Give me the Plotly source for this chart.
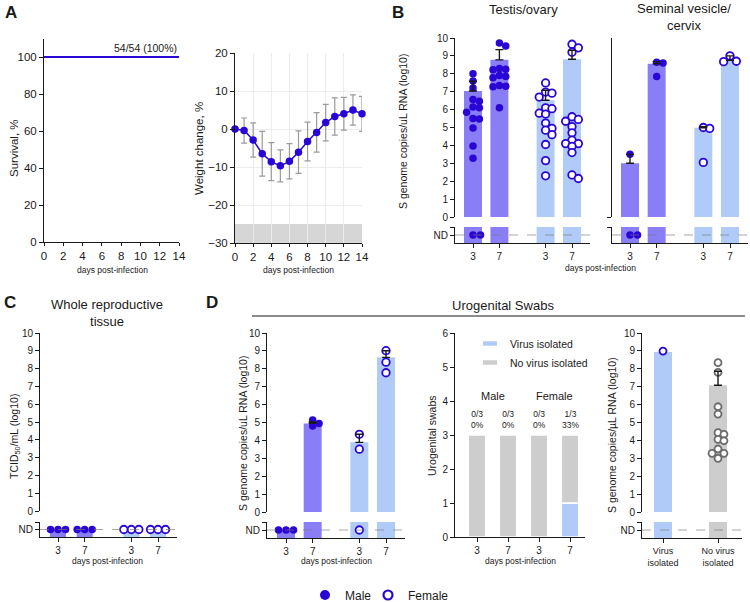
import math
import plotly.graph_objects as go

W, H = 750, 602
FONT = "Arial, Liberation Sans, Helvetica, sans-serif"
INK = "#1a1a1a"
BLUE = "#2a06d6"
MALE_BAR = "#8a7ef6"
FEMALE_BAR = "#b0cbf7"
GRAY_BAR = "#cdcdcd"
GRAY_PT = "#6b6b6b"

# ------------------------------------------------------------------ data
SURV_DAYS = [0, 14]
SURV_PCT = [100, 100]
SURV_LABEL = "54/54 (100%)"

WEIGHT_DAYS = list(range(15))
WEIGHT_MEAN = [0, -0.4, -2.9, -6.5, -8.6, -9.7, -8.5, -6.1, -3.3, -0.9, 1.7, 3.3, 4.0, 5.0, 4.0]
WEIGHT_SD = [0, 3.3, 4.5, 5.9, 5.0, 4.2, 4.65, 5.6, 5.1, 5.2, 4.8, 4.9, 4.3, 4.0, 4.6]

DAY_LABELS = ["3", "7", "3", "7"]
GROUP_SEX = ["M", "M", "F", "F"]
ND = None  # not detected

# B  Testis / ovary  (log10 S genome copies/uL RNA)
TES_M3 = [8.0, 7.6, 7.2, 6.57, 6.46, 6.14, 6.1, 5.85, 5.5, 5.47, 4.97, 3.97, 3.28, ND, ND]
TES_M7 = [9.72, 9.55, 8.3, 8.25, 8.22, 7.9, 7.85, 7.78, 7.35, 7.3, 7.28, 6.1]
TES_F3 = [7.49, 6.98, 6.92, 6.7, 6.1, 6.05, 5.8, 5.75, 5.25, 4.95, 4.85, 4.6, 4.05, 3.15, 2.3]
TES_F7 = [9.65, 9.45, 9.2, 5.6, 5.45, 5.35, 5.05, 4.7, 4.3, 4.1, 4.1, 3.95, 3.6, 2.35, 2.15]
TES_MEAN = [7.04, 8.78, 6.52, 8.81]
TES_ERR = [0.54, 0.57, 0.56, 0.5]

# B  Seminal vesicle / cervix
SEM_M3 = [3.5, ND, ND]
SEM_M7 = [8.65, 8.6, 7.85]
SEM_F3 = [5.0, 4.95, 3.05]
SEM_F7 = [9.0, 8.7, 8.68]
SEM_MEAN = [3.0, 8.56, 4.99, 8.75]
SEM_ERR = [0.5, 0.12, 0.05, 0.25]

# C  Whole reproductive tissue (TCID50/mL)
WRT_M3 = [ND, ND, ND]
WRT_M7 = [ND, ND, ND]
WRT_F3 = [ND, ND, ND]
WRT_F7 = [ND, ND, ND]
WRT_MEAN = [ND, ND, ND, ND]
WRT_ERR = [None, None, None, None]

# D  Urogenital swabs RNA
URO_M3 = [ND, ND, ND]
URO_M7 = [5.14, 4.95, 4.8]
URO_F3 = [4.34, 3.51, ND]
URO_F7 = [9.01, 8.37, 7.78]
URO_MEAN = [ND, 4.95, 3.89, 8.64]
URO_ERR = [None, 0.08, 0.45, 0.37]

# D  Swabs with / without virus isolated
SWAB_VIRUS = [0, 0, 0, 1]
SWAB_NOVIRUS = [3, 3, 3, 2]
SWAB_LABELS = ["0/3<br>0%", "0/3<br>0%", "0/3<br>0%", "1/3<br>33%"]

# D  RNA by isolation status
ISO_CATS = ["Virus<br>isolated", "No virus<br>isolated"]
ISO_VIRUS = [8.99]
ISO_NOVIRUS = [8.34, 7.8, 5.88, 5.47, 4.43, 4.34, 4.06, 3.98, 3.52, 3.28, 3.28, 3.0]
ISO_MEAN = [8.94, 7.08]
ISO_ERR = [None, 0.78]

# ------------------------------------------------------------------ helpers
ND_Y = -1.0  # plotting level for "ND" in the broken lower segment


def xd(a, b):
    return [a / W, b / W]


def yd(top, bot):
    return [1 - bot / H, 1 - top / H]


def ax_base(**kw):
    d = dict(showline=True, linecolor=INK, linewidth=1, ticks="outside", tickcolor=INK,
             ticklen=4, tickwidth=1, showgrid=False, zeroline=False, fixedrange=True,
             tickfont=dict(size=10, color=INK, family=FONT))
    d.update(kw)
    return d


def swarm(vals, s_px, u_px, d_px, step=0.85, clear=0.8):
    """Deterministic beeswarm: put each point at the first free slot 0, +1, -1, +2, ..."""
    placed, offs = [], []
    cand = [0]
    for i in range(1, 8):
        cand += [i, -i]
    for v in vals:
        y = v * s_px
        x = 0
        for c in cand:
            x = c * d_px * step
            if all(math.hypot(x - px, y - py) >= d_px * clear for px, py in placed):
                break
        placed.append((x, y))
        offs.append(x / u_px)
    return offs


STYLE = {
    "M": dict(bar=MALE_BAR, mk=dict(color=BLUE, line=dict(width=0))),
    "F": dict(bar=FEMALE_BAR, mk=dict(color="white", line=dict(color=BLUE, width=1.8))),
    "V": dict(bar=FEMALE_BAR, mk=dict(color="white", line=dict(color=BLUE, width=1.8))),
    "N": dict(bar=GRAY_BAR, mk=dict(color="white", line=dict(color=GRAY_PT, width=1.8))),
}

fig = go.Figure()
L = dict()
shapes = []
anns = []


def ann(text, x, y, size, **kw):
    d = dict(text=text, x=x / W, y=1 - y / H, xref="paper", yref="paper", showarrow=False,
             font=dict(size=size, family=FONT, color=INK), xanchor="center", yanchor="middle")
    d.update(kw)
    return d


def dot_panel(iu, il, xdom, yu, yl, p0, unit, positions, xt, groups, means, errs, kinds,
              ylabels=True, bar_px=18, mk=7.5, tickfont=10):
    s_px = (yu[1] - yu[0]) / 10.0
    r = [(xdom[0] - p0) / unit, (xdom[1] - p0) / unit]
    half = (yl[1] - yl[0]) / 2.0 / s_px
    lo, hi = ND_Y - half, ND_Y + half
    L[f"xaxis{iu}"] = dict(domain=xd(*xdom), range=r, visible=False, anchor=f"y{iu}", fixedrange=True)
    L[f"yaxis{iu}"] = ax_base(domain=yd(*yu), range=[0, 10], anchor=f"x{iu}",
                              tickvals=list(range(11)) if ylabels else [0],
                              showticklabels=ylabels)
    L[f"xaxis{il}"] = ax_base(domain=xd(*xdom), range=r, anchor=f"y{il}", tickvals=positions,
                              ticktext=xt, tickfont=dict(size=tickfont, color=INK, family=FONT))
    L[f"yaxis{il}"] = ax_base(domain=yd(*yl), range=[lo, hi], anchor=f"x{il}",
                              tickvals=[ND_Y, hi - 1e-3] if ylabels else [hi - 1e-3],
                              ticktext=["ND", " "] if ylabels else [" "])
    shapes.append(dict(type="line", xref=f"x{il} domain", x0=0, x1=1, yref=f"y{il}", y0=ND_Y, y1=ND_Y,
                       line=dict(color="rgba(120,120,120,0.65)", width=1, dash="dash"), layer="above"))
    bw = bar_px / unit
    xu, yu_, xl, yl_ = f"x{iu}", f"y{iu}", f"x{il}", f"y{il}"
    # keep the upper subplot alive even when every value is "ND"
    fig.add_trace(go.Scatter(x=[None], y=[None], mode="markers", xaxis=xu, yaxis=yu_,
                             showlegend=False, hoverinfo="skip"))
    for pos, vals, mean, err, kind in zip(positions, groups, means, errs, kinds):
        st = STYLE[kind]
        if mean is not None:
            fig.add_trace(go.Bar(x=[pos], y=[mean], width=bw, marker=dict(color=st["bar"], line=dict(width=0)),
                                 xaxis=xu, yaxis=yu_, showlegend=False, hoverinfo="skip"))
        top = mean if mean is not None else ND_Y
        fig.add_trace(go.Bar(x=[pos], y=[top - lo], base=lo, width=bw,
                             marker=dict(color=st["bar"], line=dict(width=0)),
                             xaxis=xl, yaxis=yl_, showlegend=False, hoverinfo="skip"))
        det = sorted([v for v in vals if v is not None], reverse=True)
        nd = [ND_Y for v in vals if v is None]
        if det:
            offs = swarm(det, s_px, unit, mk)
            fig.add_trace(go.Scatter(x=[pos + o for o in offs], y=det, mode="markers",
                                     marker=dict(size=mk, symbol="circle", **st["mk"]),
                                     xaxis=xu, yaxis=yu_, showlegend=False, cliponaxis=False,
                                     hoverinfo="skip"))
        if nd:
            offs = swarm(nd, s_px, unit, mk, step=1.0, clear=0.95)
            fig.add_trace(go.Scatter(x=[pos + o for o in offs], y=nd, mode="markers",
                                     marker=dict(size=mk, symbol="circle", **st["mk"]),
                                     xaxis=xl, yaxis=yl_, showlegend=False, cliponaxis=False,
                                     hoverinfo="skip"))
        if mean is not None and err is not None:
            fig.add_trace(go.Scatter(x=[pos], y=[mean], mode="markers",
                                     marker=dict(size=1, opacity=0),
                                     error_y=dict(type="data", array=[err], arrayminus=[0], symmetric=False,
                                                  color=INK, thickness=1.4, width=4),
                                     xaxis=xu, yaxis=yu_, showlegend=False, cliponaxis=False,
                                     hoverinfo="skip"))


POS4 = [0, 1, 2.75, 3.75]

# ------------------------------------------------------------------ A: survival
fig.add_trace(go.Scatter(x=SURV_DAYS, y=SURV_PCT, mode="lines", line=dict(color=BLUE, width=2),
                         xaxis="x", yaxis="y", showlegend=False, hoverinfo="skip", cliponaxis=False))
L["xaxis"] = ax_base(domain=xd(44, 179), range=[0, 14], tickvals=list(range(0, 15, 2)), anchor="y",
                     ticklen=3, tickfont=dict(size=11.5, color=INK, family=FONT))
L["yaxis"] = ax_base(domain=yd(38.5, 242), range=[0, 110], tickvals=list(range(0, 101, 20)), anchor="x",
                     tickfont=dict(size=11.5, color=INK, family=FONT))
anns.append(dict(text=SURV_LABEL, x=SURV_DAYS[-1], y=SURV_PCT[-1], xref="x", yref="y", showarrow=False,
                 xanchor="right", yanchor="bottom", yshift=1,
                 font=dict(size=10.5, family=FONT, color=INK)))

# ------------------------------------------------------------------ A: weight
fig.add_trace(go.Scatter(x=WEIGHT_DAYS, y=WEIGHT_MEAN, mode="lines+markers",
                         line=dict(color=BLUE, width=1.5),
                         marker=dict(color=BLUE, size=7.5),
                         error_y=dict(type="data", array=WEIGHT_SD, color="#9a9a9a", thickness=1.2, width=3),
                         xaxis="x2", yaxis="y2", showlegend=False, hoverinfo="skip", cliponaxis=False))
L["xaxis2"] = ax_base(domain=xd(235, 362), range=[0, 14], tickvals=list(range(0, 15, 2)), anchor="y2",
                      ticklen=3, showgrid=True, gridcolor="#ececec", gridwidth=1,
                      tickfont=dict(size=11.5, color=INK, family=FONT))
L["yaxis2"] = ax_base(domain=yd(53, 243), range=[-30, 20], tickvals=list(range(-30, 21, 10)), anchor="x2",
                      showgrid=True, gridcolor="#ececec", gridwidth=1,
                      tickfont=dict(size=11.5, color=INK, family=FONT))
shapes.append(dict(type="rect", xref="x2 domain", x0=0, x1=1, yref="y2", y0=-30, y1=-25,
                   fillcolor="#d6d6d6", line=dict(width=0), layer="below"))

# ------------------------------------------------------------------ B
dot_panel(3, 4, (455, 590), (38, 217), (227, 243), 473, (572 - 473) / 3.75, POS4, DAY_LABELS,
          [TES_M3, TES_M7, TES_F3, TES_F7], TES_MEAN, TES_ERR, GROUP_SEX, ylabels=True)
dot_panel(5, 6, (612, 748), (38, 217), (227, 243), 630, (730 - 630) / 3.75, POS4, DAY_LABELS,
          [SEM_M3, SEM_M7, SEM_F3, SEM_F7], SEM_MEAN, SEM_ERR, GROUP_SEX, ylabels=False)

# ------------------------------------------------------------------ C
dot_panel(7, 8, (40, 177), (333, 511), (522, 537), 58, (158 - 58) / 3.75, POS4, DAY_LABELS,
          [WRT_M3, WRT_M7, WRT_F3, WRT_F7], WRT_MEAN, WRT_ERR, GROUP_SEX, ylabels=True, bar_px=16)

# ------------------------------------------------------------------ D1
dot_panel(9, 10, (267, 405), (333, 512), (522, 538), 286, (386 - 286) / 3.75, POS4, DAY_LABELS,
          [URO_M3, URO_M7, URO_F3, URO_F7], URO_MEAN, URO_ERR, GROUP_SEX, ylabels=True)

# ------------------------------------------------------------------ D2 stacked swabs
POS_SW = [0, 1, 2, 3]
unit_sw = 31.0
fig.add_trace(go.Bar(x=POS_SW, y=SWAB_VIRUS, width=0.56, name="Virus isolated",
                     marker=dict(color=FEMALE_BAR, line=dict(color="white", width=1.5)),
                     xaxis="x11", yaxis="y11", showlegend=False, hoverinfo="skip", legendgroup="vi"))
fig.add_trace(go.Bar(x=POS_SW, y=SWAB_NOVIRUS, base=SWAB_VIRUS, width=0.56, name="No virus isolated",
                     marker=dict(color=GRAY_BAR, line=dict(color="white", width=1.5)),
                     xaxis="x11", yaxis="y11", showlegend=False, hoverinfo="skip", legendgroup="nv"))
fig.add_trace(go.Scatter(x=[None], y=[None], mode="markers", name="Virus isolated", legendgroup="vi",
                         marker=dict(symbol="line-ew", size=10, line=dict(color=FEMALE_BAR, width=4.5)),
                         xaxis="x11", yaxis="y11", legend="legend2"))
fig.add_trace(go.Scatter(x=[None], y=[None], mode="markers", name="No virus isolated", legendgroup="nv",
                         marker=dict(symbol="line-ew", size=10, line=dict(color=GRAY_BAR, width=4.5)),
                         xaxis="x11", yaxis="y11", legend="legend2"))
L["xaxis11"] = ax_base(domain=xd(455, 585), range=[(455 - 477) / unit_sw, (585 - 477) / unit_sw],
                       tickvals=POS_SW, ticktext=DAY_LABELS, anchor="y11")
L["yaxis11"] = ax_base(domain=yd(333, 537), range=[0, 6], tickvals=list(range(7)), anchor="x11")
for i, lab in enumerate(SWAB_LABELS):
    anns.append(dict(text=lab, x=POS_SW[i], y=SWAB_VIRUS[i] + SWAB_NOVIRUS[i], xref="x11", yref="y11",
                     showarrow=False, yanchor="bottom", yshift=3,
                     font=dict(size=8.5, family=FONT, color=INK)))
anns.append(dict(text="Male", x=0.5, y=4.15, xref="x11", yref="y11", showarrow=False,
                 font=dict(size=11, family=FONT, color=INK)))
anns.append(dict(text="Female", x=2.5, y=4.15, xref="x11", yref="y11", showarrow=False,
                 font=dict(size=11, family=FONT, color=INK)))

# ------------------------------------------------------------------ D3
dot_panel(12, 13, (642, 742), (333, 512), (522, 538), 663, 55.0, [0, 1], ISO_CATS,
          [ISO_VIRUS, ISO_NOVIRUS], ISO_MEAN, ISO_ERR, ["V", "N"], ylabels=True, mk=7, tickfont=9)

# ------------------------------------------------------------------ legend traces (Male / Female)
fig.add_trace(go.Scatter(x=[None], y=[None], mode="markers", name="Male", legend="legend",
                         marker=dict(size=10, color=BLUE), xaxis="x", yaxis="y"))
fig.add_trace(go.Scatter(x=[None], y=[None], mode="markers", name="Female", legend="legend3",
                         marker=dict(size=9, color="white", line=dict(color=BLUE, width=2.2)),
                         xaxis="x", yaxis="y"))

# ------------------------------------------------------------------ text
for t, x, y in [("<b>A</b>", 11, 12), ("<b>B</b>", 398, 13), ("<b>C</b>", 10, 302), ("<b>D</b>", 212, 302)]:
    anns.append(ann(t, x, y, 17))
anns.append(ann("Testis/ovary", 523, 10, 13))
anns.append(ann("Seminal vesicle/<br>cervix", 684, 17, 13))
anns.append(ann("Whole reproductive<br>tissue", 107, 313, 13))
anns.append(ann("Urogenital Swabs", 503, 305, 13))
shapes.append(dict(type="line", xref="paper", yref="paper", x0=252 / W, x1=745 / W, y0=1 - 316 / H,
                   y1=1 - 316 / H, line=dict(color=INK, width=1)))

anns.append(ann("Survival, %", 14, 148, 11.5, textangle=-90))
anns.append(ann("Weight change, %", 199, 148, 11.5, textangle=-90))
anns.append(ann("S genome copies/uL RNA (log10)", 403, 132, 10.5, textangle=-90))
anns.append(ann("TCID<sub>50</sub>/mL (log10)", 15, 437, 10.5, textangle=-90))
anns.append(ann("S genome copies/uL RNA (log10)", 243, 434, 10.5, textangle=-90))
anns.append(ann("Urogenital swabs", 432, 435, 10.5, textangle=-90))
anns.append(ann("S genome copies/µL RNA (log10)", 612, 435, 10.5, textangle=-90))

for x, y in [(112, 270), (298, 270), (600, 268), (108, 561), (336, 561), (520, 561)]:
    anns.append(ann("days post-infection", x, y, 8.5))

LEG = dict(orientation="h", yanchor="middle", y=1 - 595 / H, xanchor="left",
           font=dict(size=12, family=FONT, color=INK), bgcolor="rgba(0,0,0,0)", itemwidth=30,
           borderwidth=0)
L.update(
    width=W, height=H, margin=dict(l=0, r=0, t=0, b=0, autoexpand=False),
    paper_bgcolor="white", plot_bgcolor="rgba(0,0,0,0)",
    font=dict(family=FONT, color=INK, size=10),
    barmode="overlay", hovermode=False,
    shapes=shapes, annotations=anns,
    showlegend=True,
    legend=dict(LEG, x=305 / W),
    legend3=dict(LEG, x=368 / W),
    legend2=dict(orientation="v", x=470 / W, xanchor="left", y=1 - 329 / H, yanchor="top",
                 font=dict(size=10.5, family=FONT, color=INK), bgcolor="rgba(0,0,0,0)", itemwidth=30,
                 tracegroupgap=0),
)
fig.update_layout(**L)
fig.write_html("out.html")
